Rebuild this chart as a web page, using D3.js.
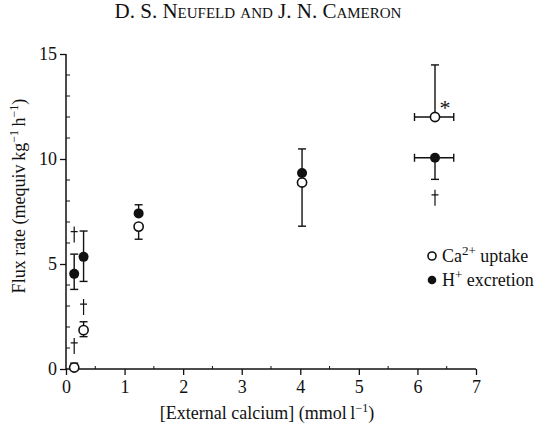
<!DOCTYPE html>
<html>
<head>
<meta charset="utf-8">
<script src="https://cdn.jsdelivr.net/npm/d3@7"></script>
<style>
  body { margin: 0; background: #fff; }
  text { font-family: "Liberation Serif", "DejaVu Serif", serif; fill: #111; }
</style>
</head>
<body>
<div id="chart"></div>
<script>
var width = 542, height = 432;

// data
var calcium = [0.14, 0.30, 1.24, 4.03, 6.30];
var caUptake = [0.07, 1.85, 6.78, 8.88, 12.0];
var caLow = [0.07, 1.54, 6.18, 6.80, 12.0];
var caHigh = [0.28, 2.25, 6.78, 8.88, 14.48];
var hExcretion = [4.53, 5.34, 7.41, 9.33, 10.06];
var hLow = [3.79, 4.17, 7.41, 9.33, 9.03];
var hHigh = [5.47, 6.57, 7.82, 10.48, 10.06];
var xErrLow = [null, null, null, null, 5.95];
var xErrHigh = [null, null, null, null, 6.62];
// significance marks: [calcium, flux]
var daggers = [[0.14, 1.1], [0.30, 2.95], [0.14, 6.4], [6.30, 8.15]];
var asterisk = [6.47, 12.6];
var yTicks = [0, 5, 10, 15];
var xTicks = [0, 1, 2, 3, 4, 5, 6, 7];

var svg = d3.select("#chart").append("svg")
  .attr("width", width)
  .attr("height", height)

var x = d3.scaleLinear().domain([0, 7]).range([66, 476]);
var y = d3.scaleLinear().domain([0, 15]).range([369, 54]);

// title
svg.append("text")
  .attr("x", 258).attr("y", 18)
  .attr("text-anchor", "middle")
  .style("font-size", "21px")
  .style("font-variant", "small-caps")
  .text("D. S. Neufeld and J. N. Cameron")

// axes
var yAxis = svg.append("g")
  .attr("transform", `translate(${x(0)},0)`)
  .call(d3.axisLeft(y).tickValues(yTicks).tickFormat(d3.format("d")).tickSize(6).tickPadding(3))
var xAxis = svg.append("g")
  .attr("transform", `translate(0,${y(0)})`)
  .call(d3.axisBottom(x).tickValues(xTicks).tickFormat(d3.format("d")).tickSize(6).tickPadding(5))
;[yAxis, xAxis].forEach(function(a) {
  a.select(".domain").attr("stroke", "#111").attr("stroke-width", 1.5)
  a.selectAll(".tick line").attr("stroke", "#111").attr("stroke-width", 1.3)
  a.selectAll(".tick text")
    .style("font-family", "Liberation Serif")
    .style("font-size", "18px")
    .attr("fill", "#111")
})
xAxis.select(".domain").attr("d", `M${x(0)},0H${x(7)}`)
yAxis.select(".domain").attr("d", `M0,${y(0)}V${y(15)}`)

// minor ticks, pointing inward
svg.append("g").selectAll("line")
  .data(d3.range(1, 15).filter(function(d) { return d % 5 != 0 }))
  .enter().append("line")
    .attr("x1", x(0)).attr("x2", x(0) + 4)
    .attr("y1", function(d) { return y(d) }).attr("y2", function(d) { return y(d) })
    .attr("stroke", "#111").attr("stroke-width", 1)
svg.append("g").selectAll("line")
  .data(d3.range(0.5, 7, 1))
  .enter().append("line")
    .attr("x1", function(d) { return x(d) }).attr("x2", function(d) { return x(d) })
    .attr("y1", y(0)).attr("y2", y(0) - 3)
    .attr("stroke", "#111").attr("stroke-width", 1)

// axis labels
svg.append("text")
  .attr("x", 267).attr("y", 419)
  .attr("text-anchor", "middle")
  .style("font-size", "18px")
  .html('[External calcium] (mmol\u2009l<tspan dy="-7" font-size="12px">\u22121</tspan><tspan dy="7">)</tspan>')

svg.append("text")
  .attr("transform", "translate(25,196) rotate(-90)")
  .attr("text-anchor", "middle")
  .style("font-size", "18px")
  .html('Flux rate (mequiv\u2009kg<tspan dy="-7" font-size="12px">\u22121</tspan><tspan dy="7">\u2009h</tspan><tspan dy="-7" font-size="12px">\u22121</tspan><tspan dy="7">)</tspan>')

// error bars
var cap = 4;
function errBars(lo, hi, mean) {
  var g = svg.append("g").attr("stroke", "#111").attr("stroke-width", 1.4)
  calcium.forEach(function(c, i) {
    if (hi[i] - lo[i] < 0.01) return;
    g.append("line").attr("x1", x(c)).attr("x2", x(c)).attr("y1", y(lo[i])).attr("y2", y(hi[i]))
    if (lo[i] < mean[i])
      g.append("line").attr("x1", x(c) - cap).attr("x2", x(c) + cap).attr("y1", y(lo[i])).attr("y2", y(lo[i]))
    if (hi[i] > mean[i])
      g.append("line").attr("x1", x(c) - cap).attr("x2", x(c) + cap).attr("y1", y(hi[i])).attr("y2", y(hi[i]))
  })
}
errBars(caLow, caHigh, caUptake)
errBars(hLow, hHigh, hExcretion)

// horizontal error bars
var hg = svg.append("g").attr("stroke", "#111").attr("stroke-width", 1.4)
calcium.forEach(function(c, i) {
  if (xErrLow[i] == null) return;
  [caUptake[i], hExcretion[i]].forEach(function(v) {
    hg.append("line").attr("x1", x(xErrLow[i])).attr("x2", x(xErrHigh[i])).attr("y1", y(v)).attr("y2", y(v))
    hg.append("line").attr("x1", x(xErrLow[i])).attr("x2", x(xErrLow[i])).attr("y1", y(v) - cap).attr("y2", y(v) + cap)
    hg.append("line").attr("x1", x(xErrHigh[i])).attr("x2", x(xErrHigh[i])).attr("y1", y(v) - cap).attr("y2", y(v) + cap)
  })
})

// points
svg.append("g").selectAll("circle")
  .data(calcium)
  .enter().append("circle")
    .attr("cx", function(d) { return x(d) })
    .attr("cy", function(d, i) { return y(hExcretion[i]) })
    .attr("r", 5)
    .attr("fill", "#111")
svg.append("g").selectAll("circle")
  .data(calcium)
  .enter().append("circle")
    .attr("cx", function(d) { return x(d) })
    .attr("cy", function(d, i) { return y(caUptake[i]) })
    .attr("r", 4.6)
    .attr("fill", "#fff")
    .attr("stroke", "#111")
    .attr("stroke-width", 1.6)

// daggers drawn as thin crosses
var dg = svg.append("g").attr("stroke", "#111").attr("stroke-width", 1.2).attr("fill", "none")
daggers.forEach(function(d) {
  var cx = x(d[0]), cy = y(d[1]);
  dg.append("path").attr("d", `M${cx},${cy - 8}V${cy + 8}M${cx - 3.5},${cy - 3}H${cx + 3.5}`)
})
svg.append("text")
  .attr("x", x(asterisk[0])).attr("y", y(asterisk[1]) + 11)
  .attr("text-anchor", "middle")
  .style("font-size", "22px")
  .text("*")

// legend
var legend = svg.append("g").attr("transform", "translate(432,256)")
legend.append("circle").attr("r", 4).attr("fill", "#fff").attr("stroke", "#111").attr("stroke-width", 1.6)
legend.append("circle").attr("cy", 24).attr("r", 4.3).attr("fill", "#111")
legend.append("text").attr("x", 10).attr("y", 6).style("font-size", "18px")
  .html('Ca<tspan dy="-7" font-size="13px">2+</tspan><tspan dy="7"> uptake</tspan>')
legend.append("text").attr("x", 10).attr("y", 30).style("font-size", "18px")
  .html('H<tspan dy="-7" font-size="13px">+</tspan><tspan dy="7"> excretion</tspan>')
</script>
</body>
</html>
